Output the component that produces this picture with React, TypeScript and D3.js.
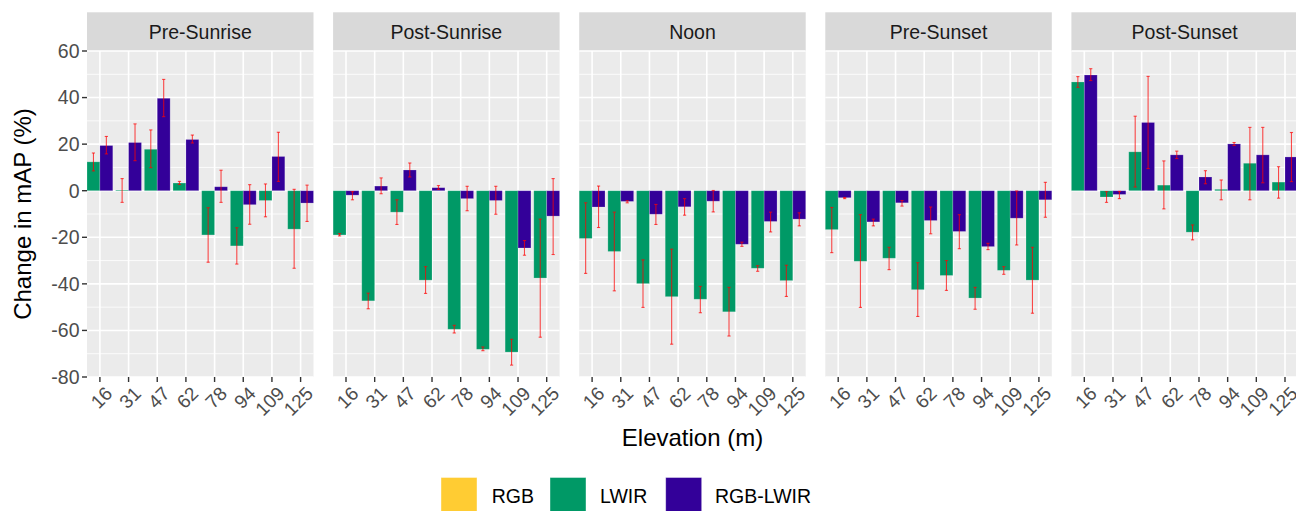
import React from "react";
import * as d3 from "d3";

const facets = ["Pre-Sunrise", "Post-Sunrise", "Noon", "Pre-Sunset", "Post-Sunset"];
const elevations = ["16", "31", "47", "62", "78", "94", "109", "125"];
const seriesNames = ["RGB", "LWIR", "RGB-LWIR"];
const seriesColors = ["#FFCC33", "#009966", "#330099"];
const yTicks = [-80, -60, -40, -20, 0, 20, 40, 60];
const yMinor = [-70, -50, -30, -10, 10, 30, 50];

const lwirMean = [
  [12.4, 0.3, 17.8, 3.3, -19.0, -23.7, -4.2, -16.5],
  [-19.0, -47.3, -9.2, -38.4, -59.5, -68.1, -69.3, -37.5],
  [-20.5, -26.1, -39.9, -45.5, -46.6, -52.0, -33.3, -38.6],
  [-16.7, -30.3, -29.0, -42.5, -36.4, -46.1, -34.2, -38.4],
  [46.7, -2.7, 16.7, 2.4, -17.8, 0.6, 11.8, 3.7],
];
const lwirLow = [
  [8.5, -5.0, 9.9, 2.7, -30.7, -31.5, -11.2, -33.3],
  [-19.4, -50.7, -14.5, -44.1, -61.1, -68.7, -74.9, -62.9],
  [-35.5, -43.0, -50.1, -65.9, -52.4, -62.4, -34.6, -45.4],
  [-26.6, -50.1, -33.9, -54.0, -42.8, -50.9, -35.9, -52.6],
  [44.4, -5.0, 1.6, -7.8, -21.1, -3.9, -3.9, -3.2],
];
const lwirHigh = [
  [16.2, 5.2, 26.1, 4.0, -7.3, -15.9, 2.9, 0.6],
  [-18.4, -44.0, -3.9, -32.6, -57.8, -67.1, -63.8, -12.2],
  [-5.2, -9.2, -29.7, -25.1, -41.1, -41.5, -32.2, -32.0],
  [-7.2, -10.3, -24.3, -30.9, -30.0, -41.5, -32.6, -24.3],
  [49.0, -0.4, 32.0, 12.8, -14.7, 4.6, 27.2, 10.3],
];
const fusionMean = [
  [19.4, 20.7, 39.7, 22.0, 1.7, -6.0, 14.7, -5.3],
  [-1.9, 2.0, 8.9, 1.3, -3.4, -4.2, -24.6, -10.9],
  [-7.0, -4.6, -10.1, -6.9, -4.5, -23.0, -13.2, -12.2],
  [-3.0, -13.4, -5.2, -12.8, -17.5, -24.0, -11.8, -3.9],
  [49.7, -1.6, 29.3, 15.4, 5.9, 20.1, 15.4, 14.5],
];
const fusionLow = [
  [15.8, 12.9, 31.8, 20.5, -5.0, -14.4, 4.0, -13.2],
  [-3.9, -1.3, 5.9, 0.6, -8.6, -10.1, -27.7, -27.4],
  [-15.8, -5.2, -14.5, -10.5, -9.1, -23.9, -17.7, -15.1],
  [-3.4, -15.1, -6.6, -18.5, -24.9, -25.3, -23.3, -11.4],
  [47.3, -3.4, 9.5, 13.8, 3.0, 19.4, 3.4, 3.9],
];
const fusionHigh = [
  [23.3, 28.7, 47.8, 23.9, 8.8, 2.6, 25.1, 2.4],
  [-0.4, 5.5, 11.9, 2.2, 1.9, 1.9, -21.4, 5.2],
  [2.0, -4.3, -5.9, -3.4, 0.1, -22.1, -9.2, -9.5],
  [-2.9, -12.2, -4.2, -7.0, -10.3, -22.6, -0.1, 3.6],
  [52.4, -0.3, 49.1, 17.0, 8.6, 20.7, 27.2, 25.0],
];

const W = 1296;
const H = 511;
const FONT = "'Liberation Sans', Arial, sans-serif";
const panelTop = 51;
const panelBottom = 377;
const stripTop = 12.3;
const panelLeft0 = 87;
const panelPeriod = 246.1;
const panelWidth = 226.5;

export default function App() {
  const y = d3.scaleLinear().domain([-80, 60]).range([panelBottom, panelTop]);

  const panels = facets.map((name, fi) => {
    const left = panelLeft0 + fi * panelPeriod;
    const x = d3
      .scalePoint<string>()
      .domain(elevations)
      .range([left, left + panelWidth])
      .padding(0.45);
    const bw = x.step() * 0.45;
    const groups = [
      { mean: lwirMean[fi], low: lwirLow[fi], high: lwirHigh[fi], color: seriesColors[1], off: -bw },
      { mean: fusionMean[fi], low: fusionLow[fi], high: fusionHigh[fi], color: seriesColors[2], off: 0 },
    ];
    return (
      <g key={name}>
        <rect x={left} y={stripTop} width={panelWidth} height={panelTop - stripTop} fill="#D9D9D9" />
        <text
          x={left + panelWidth / 2}
          y={38.5}
          textAnchor="middle"
          fontSize={19.5}
          fill="#1A1A1A"
          fontFamily={FONT}
        >
          {name}
        </text>
        <rect x={left} y={panelTop} width={panelWidth} height={panelBottom - panelTop} fill="#EBEBEB" />
        {yMinor.map((t) => (
          <line key={"mn" + t} x1={left} x2={left + panelWidth} y1={y(t)} y2={y(t)} stroke="#fff" strokeWidth={0.8} />
        ))}
        {yTicks.map((t) => (
          <line key={"mj" + t} x1={left} x2={left + panelWidth} y1={y(t)} y2={y(t)} stroke="#fff" strokeWidth={1.6} />
        ))}
        {elevations.map((e) => (
          <line key={"vx" + e} x1={x(e)} x2={x(e)} y1={panelTop} y2={panelBottom} stroke="#fff" strokeWidth={1.6} />
        ))}
        {groups.map((g, gi) =>
          elevations.map((e, ci) => {
            const v = g.mean[ci];
            const x0 = (x(e) as number) + g.off;
            return (
              <rect
                key={"b" + gi + e}
                x={x0}
                y={Math.min(y(v), y(0))}
                width={bw}
                height={Math.max(Math.abs(y(v) - y(0)), 0.6)}
                fill={g.color}
                stroke="rgba(255,255,255,0.25)"
                strokeWidth={0.8}
              />
            );
          })
        )}
        {groups.map((g, gi) =>
          elevations.map((e, ci) => {
            const cx = (x(e) as number) + g.off + bw / 2;
            const yl = y(g.low[ci]);
            const yh = y(g.high[ci]);
            return (
              <g key={"e" + gi + e} stroke="#FF0000" strokeOpacity={0.7} strokeWidth={1.1}>
                <line x1={cx} x2={cx} y1={yl} y2={yh} />
                <line x1={cx - 1.6} x2={cx + 1.6} y1={yl} y2={yl} />
                <line x1={cx - 1.6} x2={cx + 1.6} y1={yh} y2={yh} />
              </g>
            );
          })
        )}
        {elevations.map((e) => (
          <g key={"xt" + e}>
            <line x1={x(e)} x2={x(e)} y1={panelBottom} y2={panelBottom + 5} stroke="#333333" strokeWidth={1.4} />
            <text
              transform={`translate(${(x(e) as number) + 4},${panelBottom + 8}) rotate(-45)`}
              textAnchor="end"
              dy="0.72em"
              fontSize={19}
              fill="#4D4D4D"
              fontFamily={FONT}
            >
              {e}
            </text>
          </g>
        ))}
      </g>
    );
  });

  const legendKeys = [441, 550, 665.7];
  const legendTexts = [491.7, 600, 715];

  return (
    <svg
      width={W}
      height={H}
      style={{ position: "absolute", left: 0, top: 0, background: "#fff" }}
      fontFamily={FONT}
    >
      <rect x={0} y={0} width={W} height={H} fill="#fff" />
      {panels}
      {yTicks.map((t) => (
        <g key={"yt" + t}>
          <line x1={panelLeft0 - 5} x2={panelLeft0} y1={y(t)} y2={y(t)} stroke="#333333" strokeWidth={1.4} />
          <text
            x={panelLeft0 - 7.5}
            y={y(t)}
            dy="0.35em"
            textAnchor="end"
            fontSize={19.5}
            fill="#4D4D4D"
            fontFamily={FONT}
          >
            {t}
          </text>
        </g>
      ))}
      <text
        transform={`translate(31,${(panelTop + panelBottom) / 2}) rotate(-90)`}
        textAnchor="middle"
        fontSize={24}
        fill="#000"
        fontFamily={FONT}
      >
        Change in mAP (%)
      </text>
      <text x={692.5} y={446} textAnchor="middle" fontSize={24} fill="#000" fontFamily={FONT}>
        Elevation (m)
      </text>
      {seriesNames.map((s, i) => (
        <g key={"lg" + s}>
          <rect
            x={legendKeys[i]}
            y={477.5}
            width={36}
            height={36}
            fill={seriesColors[i]}
            stroke="rgba(255,255,255,0.5)"
            strokeWidth={0.8}
          />
          <text x={legendTexts[i]} y={502.5} fontSize={19.5} fill="#000" fontFamily={FONT}>
            {s}
          </text>
        </g>
      ))}
    </svg>
  );
}
